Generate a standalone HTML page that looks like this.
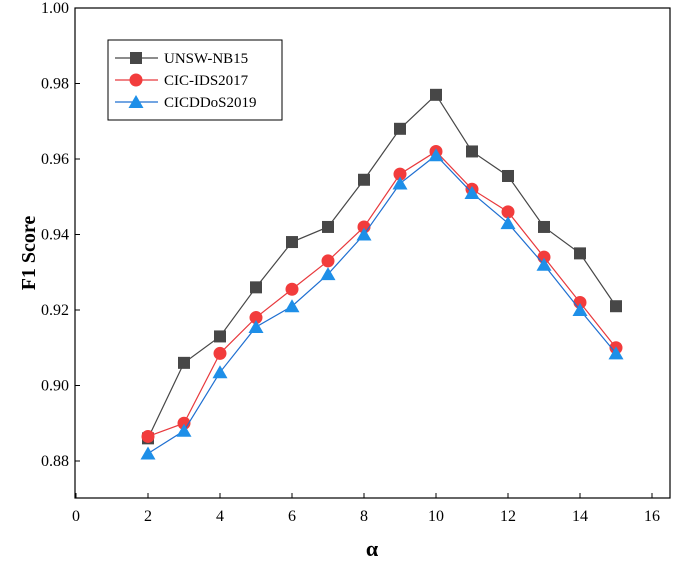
<!DOCTYPE html>
<html><head><meta charset="utf-8"><style>
body{margin:0;background:#fff}
text{font-family:"Liberation Serif",serif;fill:#000}
</style></head><body>
<svg id="c" width="685" height="565" xmlns="http://www.w3.org/2000/svg"></svg>
<script>
const xs=[2,3,4,5,6,7,8,9,10,11,12,13,14,15];
const unsw=[0.886,0.906,0.913,0.926,0.938,0.942,0.9545,0.968,0.977,0.962,0.9555,0.942,0.935,0.921];
const cicids=[0.8865,0.890,0.9085,0.918,0.9255,0.933,0.942,0.956,0.962,0.952,0.946,0.934,0.922,0.910];
const cicddos=[0.882,0.888,0.9035,0.9155,0.921,0.9295,0.940,0.9535,0.961,0.951,0.943,0.932,0.920,0.9085];
const xTicks=[0,2,4,6,8,10,12,14,16];
const yTicks=[0.88,0.90,0.92,0.94,0.96,0.98,1.00];
const L=75,R=670,T=8,B=498;
const X=v=>76+v*36;
const Y=v=>461-(v-0.88)/0.02*75.5;
const svg=document.getElementById('c');const NS='http://www.w3.org/2000/svg';
function mk(t,a,p){const e=document.createElementNS(NS,t);for(const k in a)e.setAttribute(k,a[k]);(p||svg).appendChild(e);return e;}
let e=mk('rect',{x:L,y:T,width:R-L,height:B-T,fill:'none',stroke:'#000','stroke-width':1.2});


xTicks.forEach(v=>{mk('line',{x1:X(v),x2:X(v),y1:B,y2:B-5,stroke:'#000'});
 e=mk('text',{x:X(v),y:B+23,'text-anchor':'middle','font-size':16});e.textContent=v;
 
 });
yTicks.forEach(v=>{mk('line',{x1:L,x2:L+5,y1:Y(v),y2:Y(v),stroke:'#000'});
 e=mk('text',{x:L-6,y:Y(v)+5,'text-anchor':'end','font-size':16});e.textContent=v.toFixed(2);
 
 });
e=mk('text',{x:372,y:556,'text-anchor':'middle','font-size':22,'font-weight':'bold'});e.textContent='α';


e=mk('text',{x:0,y:0,transform:'translate(35,253) rotate(-90)','text-anchor':'middle','font-size':20,'font-weight':'bold'});e.textContent='F1 Score';


function marker(kind,x,y,col,g){
 if(kind==='sq')return mk('rect',{x:x-6,y:y-6,width:12,height:12,fill:col},g);
 if(kind==='ci')return mk('circle',{cx:x,cy:y,r:6.5,fill:col},g);
 return mk('polygon',{points:`${x},${y-7} ${x-7.5},${y+6} ${x+7.5},${y+6}`,fill:col},g);}
const series=[[unsw,'#474747','#474747','sq','series-unsw-nb15'],[cicids,'#e8393d','#f23c3c','ci','series-cic-ids2017'],[cicddos,'#1f6fd1','#1e8fe8','tr','series-cicddos2019']];
series.forEach(([d,lc,mc,k,n])=>{const g=mk('g',{});
 
 
 mk('polyline',{points:d.map((v,i)=>X(xs[i])+','+Y(v)).join(' '),fill:'none',stroke:lc,'stroke-width':1.2},g);
 d.forEach((v,i)=>marker(k,X(xs[i]),Y(v),mc,g));});
const lg=mk('g',{});


mk('rect',{x:108,y:40,width:174,height:80,fill:'#fff',stroke:'#000'},lg);
const names=['UNSW-NB15','CIC-IDS2017','CICDDoS2019'];
series.forEach(([d,lc,mc,k],i)=>{const y=58+i*22;
 mk('line',{x1:115,x2:158,y1:y,y2:y,stroke:lc,'stroke-width':1.2},lg);
 marker(k,136,y,mc,lg);
 const t=mk('text',{x:164,y:y+5,'font-size':15},lg);t.textContent=names[i];
 
 });
</script>
</body></html>
